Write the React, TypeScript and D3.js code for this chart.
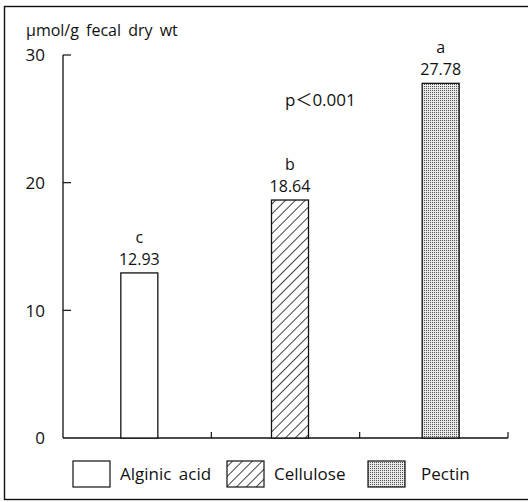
import React from 'react';
import * as d3 from 'd3';

const categories = ['Alginic acid', 'Cellulose', 'Pectin'];
const values = [12.93, 18.64, 27.78];
const letters = ['c', 'b', 'a'];
const yTicks = [0, 10, 20, 30];
const fills = ['#fff', 'url(#hatch)', 'url(#dots)'];

const W = 528;
const H = 502;
const FONT = "'Open Sans', 'Noto Sans CJK JP', sans-serif";

const App = () => {
    const y = d3.scaleLinear().domain([0, 30]).range([438, 55]);
    // bar centres
    const xc = d3.scalePoint().domain(categories).range([64, 516]).padding(0.5);
    // axis divisions
    const xb = d3.scaleBand().domain(categories).range([63, 508]);
    const barW = 37;
    const legendX = [73, 227, 368];

    return (
        <svg width={W} height={H} style={{ position: 'absolute', left: 0, top: 0 }}
            fontFamily={FONT} fill="#111">
            <defs>
                <pattern id="hatch" width="7" height="7" patternUnits="userSpaceOnUse"
                    patternTransform="rotate(45)">
                    <rect width="7" height="7" fill="#fff" />
                    <line x1="0" y1="0" x2="0" y2="7" stroke="#111" strokeWidth="1.6" />
                </pattern>
                <pattern id="dots" width="2" height="2" patternUnits="userSpaceOnUse">
                    <rect width="2" height="2" fill="#e8e8e8" />
                    <rect width="1" height="1" fill="#555" />
                </pattern>
            </defs>

            {/* frame */}
            <rect x={4.5} y={6.5} width={530} height={493} fill="none" stroke="#111" strokeWidth={1.4} />

            <text x={26} y={36} fontSize={16} wordSpacing={3}>μmol/g fecal dry wt</text>

            {/* y axis */}
            <line x1={63} x2={63} y1={y(0)} y2={y(30)} stroke="#111" strokeWidth={1.3} />
            {yTicks.map(t => (
                <g key={t}>
                    {t > 0 && <line x1={63} x2={71} y1={y(t)} y2={y(t)} stroke="#111" strokeWidth={1.2} />}
                    <text x={45} y={y(t)} dy="0.38em" textAnchor="end" fontSize={17}>{t}</text>
                </g>
            ))}

            {/* x axis */}
            <line x1={63} x2={508} y1={y(0)} y2={y(0)} stroke="#111" strokeWidth={1.3} />
            {categories.map(c => (
                <line key={c} x1={xb(c)! + xb.bandwidth()} x2={xb(c)! + xb.bandwidth()}
                    y1={y(0)} y2={y(0) - 6} stroke="#111" strokeWidth={1.2} />
            ))}

            {/* bars */}
            {categories.map((c, i) => (
                <g key={c}>
                    <rect x={xc(c)! - barW / 2} y={y(values[i])} width={barW}
                        height={y(0) - y(values[i])} fill={fills[i]} stroke="#111" strokeWidth={1.3} />
                    <text x={xc(c)} y={y(values[i]) - 8} textAnchor="middle" fontSize={16}>
                        {values[i].toFixed(2)}
                    </text>
                    <text x={xc(c)} y={y(values[i]) - 30} textAnchor="middle" fontSize={16}>
                        {letters[i]}
                    </text>
                </g>
            ))}

            <text x={285} y={106} fontSize={17}>p＜0.001</text>

            {/* legend */}
            {categories.map((c, i) => (
                <g key={c}>
                    <rect x={legendX[i]} y={461} width={37} height={26} fill={fills[i]}
                        stroke="#111" strokeWidth={1.2} />
                    <text x={legendX[i] + 47 + (i === 2 ? 6 : 0)} y={480} fontSize={17} wordSpacing={3}>{c}</text>
                </g>
            ))}
        </svg>
    );
};

export default App;
